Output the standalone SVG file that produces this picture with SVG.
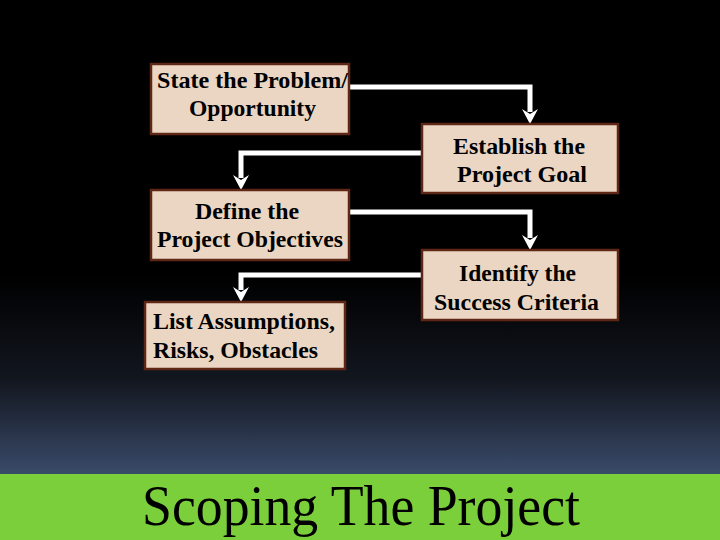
<svg xmlns="http://www.w3.org/2000/svg" width="720" height="540" viewBox="0 0 720 540">
<defs>
<linearGradient id="bg" x1="0" y1="0" x2="0" y2="474" gradientUnits="userSpaceOnUse">
<stop offset="0" stop-color="#000000"/>
<stop offset="0.58" stop-color="#000000"/>
<stop offset="0.8" stop-color="#12161F"/>
<stop offset="1" stop-color="#3A4B69"/>
</linearGradient>
<style>
.box{fill:#EAD6C3;stroke:#5E2614;stroke-width:2.5}
.t{font-family:"Liberation Serif","Times New Roman",serif;font-weight:bold;font-size:23px;fill:#000}
.line{fill:none;stroke:#FFFFFF;stroke-width:5}
.head{fill:#FFFFFF}
</style>
</defs>
<rect x="0" y="0" width="720" height="474" fill="url(#bg)"/>
<rect x="0" y="474" width="720" height="66" fill="#7BCF3B"/>
<text x="361" y="525" text-anchor="middle" font-family="'Liberation Serif','Times New Roman',serif" font-size="58" textLength="438" lengthAdjust="spacingAndGlyphs" fill="#000">Scoping The Project</text>

<g id="connectors">
<path class="line" d="M349 87 H530 V112"/>
<path class="head" d="M522 109 L530 114 L538 109 L530 124 Z"/>
<path class="line" d="M422 153 H241 V178"/>
<path class="head" d="M233 175 L241 180 L249 175 L241 190 Z"/>
<path class="line" d="M349 212 H530 V238"/>
<path class="head" d="M522 235 L530 240 L538 235 L530 250 Z"/>
<path class="line" d="M422 275 H241 V290"/>
<path class="head" d="M233 287 L241 292 L249 287 L241 302 Z"/>
</g>

<g id="n1">
<rect class="box" x="151" y="64" width="198" height="70"/>
<text class="t" x="157" y="88" textLength="191" lengthAdjust="spacingAndGlyphs">State the Problem/</text>
<text class="t" x="189" y="116" textLength="127" lengthAdjust="spacingAndGlyphs">Opportunity</text>
</g>
<g id="n2">
<rect class="box" x="422" y="124" width="196" height="69"/>
<text class="t" x="453" y="154" textLength="132" lengthAdjust="spacingAndGlyphs">Establish the</text>
<text class="t" x="457" y="182" textLength="130" lengthAdjust="spacingAndGlyphs">Project Goal</text>
</g>
<g id="n3">
<rect class="box" x="151" y="190" width="198" height="70"/>
<text class="t" x="195" y="219" textLength="104" lengthAdjust="spacingAndGlyphs">Define the</text>
<text class="t" x="157" y="247" textLength="186" lengthAdjust="spacingAndGlyphs">Project Objectives</text>
</g>
<g id="n4">
<rect class="box" x="422" y="250" width="196" height="70"/>
<text class="t" x="459" y="281" textLength="117" lengthAdjust="spacingAndGlyphs">Identify the</text>
<text class="t" x="434" y="310" textLength="165" lengthAdjust="spacingAndGlyphs">Success Criteria</text>
</g>
<g id="n5">
<rect class="box" x="145" y="302" width="200" height="67"/>
<text class="t" x="153" y="329" textLength="182" lengthAdjust="spacingAndGlyphs">List Assumptions,</text>
<text class="t" x="153" y="358" textLength="165" lengthAdjust="spacingAndGlyphs">Risks, Obstacles</text>
</g>
</svg>
